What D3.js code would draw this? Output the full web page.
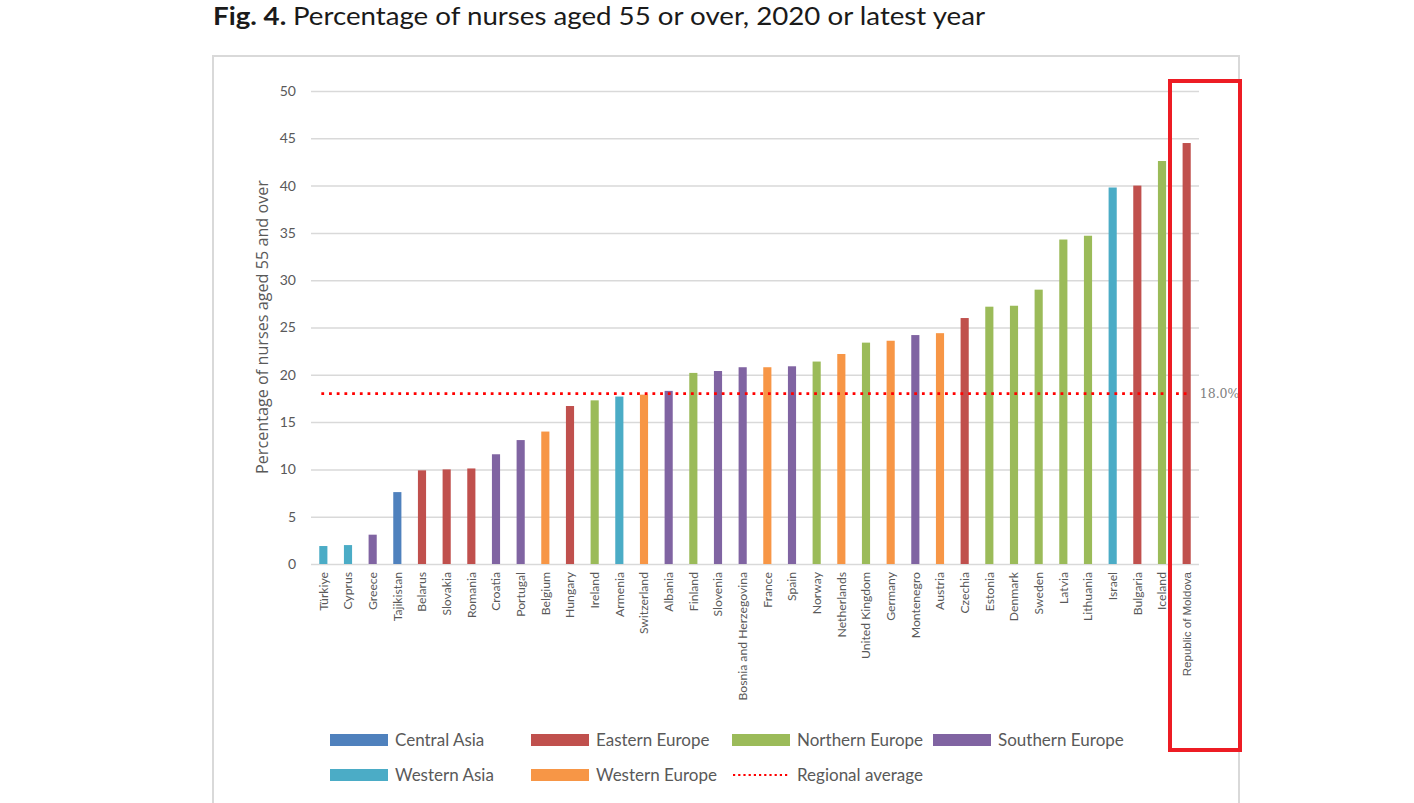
<!DOCTYPE html>
<html>
<head>
  <meta charset="utf-8">
  <script src="https://d3js.org/d3.v7.min.js"></script>
  <style>
    body { margin: 0; background: #fff; }
    svg { display: block; }
    .tick-label { font-family: Lato, "Open Sans", sans-serif; fill: #595959; }
    .grid line { stroke: #d9d9d9; stroke-width: 1.5px; }
  </style>
</head>
<body>

<script>
  var width = 1414,
      height = 803;

  // data
  var countries = ["Türkiye", "Cyprus", "Greece", "Tajikistan", "Belarus", "Slovakia", "Romania",
    "Croatia", "Portugal", "Belgium", "Hungary", "Ireland", "Armenia", "Switzerland", "Albania",
    "Finland", "Slovenia", "Bosnia and Herzegovina", "France", "Spain", "Norway", "Netherlands",
    "United Kingdom", "Germany", "Montenegro", "Austria", "Czechia", "Estonia", "Denmark", "Sweden",
    "Latvia", "Lithuania", "Israel", "Bulgaria", "Iceland", "Republic of Moldova"];
  var values = [1.9, 2.0, 3.1, 7.6, 9.9, 10.0, 10.1, 11.6, 13.1, 14.0, 16.7, 17.3, 17.7, 17.9, 18.3,
    20.2, 20.4, 20.8, 20.8, 20.9, 21.4, 22.2, 23.4, 23.6, 24.2, 24.4, 26.0, 27.2, 27.3, 29.0,
    34.3, 34.7, 39.8, 40.0, 42.6, 44.5];
  var subregions = ["Western Asia", "Western Asia", "Southern Europe", "Central Asia", "Eastern Europe",
    "Eastern Europe", "Eastern Europe", "Southern Europe", "Southern Europe", "Western Europe",
    "Eastern Europe", "Northern Europe", "Western Asia", "Western Europe", "Southern Europe",
    "Northern Europe", "Southern Europe", "Southern Europe", "Western Europe", "Southern Europe",
    "Northern Europe", "Western Europe", "Northern Europe", "Western Europe", "Southern Europe",
    "Western Europe", "Eastern Europe", "Northern Europe", "Northern Europe", "Northern Europe",
    "Northern Europe", "Northern Europe", "Western Asia", "Eastern Europe", "Northern Europe",
    "Eastern Europe"];
  var regionNames = ["Central Asia", "Eastern Europe", "Northern Europe", "Southern Europe",
    "Western Asia", "Western Europe"];
  var regionColors = ["#4f81bd", "#c0504d", "#9bbb59", "#8064a2", "#4bacc6", "#f79646"];
  var regionalAverage = 18.0;
  var yTicks = [0, 5, 10, 15, 20, 25, 30, 35, 40, 45, 50];

  var data = countries.map(function(c, i) {
    return { country: c, value: values[i], region: subregions[i] };
  });

  var svg = d3.select("body")
      .append("svg")
      .attr("width", width)
      .attr("height", height);

  // title
  var title = svg.append("text")
      .attr("x", 213)
      .attr("y", 25)
      .style("font-family", "Lato, sans-serif")
      .style("font-size", "25px")
      .style("fill", "#1a1a1a");
  title.append("tspan").style("font-weight", "bold").text("Fig. 4. ");
  title.append("tspan").text("Percentage of nurses aged 55 or over, 2020 or latest year");
  title.attr("textLength", 772).attr("lengthAdjust", "spacingAndGlyphs");

  // chart frame
  svg.append("rect")
      .attr("x", 213)
      .attr("y", 56)
      .attr("width", 1026)
      .attr("height", 800)
      .attr("fill", "none")
      .attr("stroke", "#d9d9d9")
      .attr("stroke-width", 2);

  var x = d3.scaleBand()
      .domain(countries)
      .range([311, 1199])
      .paddingInner(0.67)
      .paddingOuter(0.335);

  var y = d3.scaleLinear()
      .domain([0, 50])
      .range([564, 91]);

  var color = d3.scaleOrdinal()
      .domain(regionNames)
      .range(regionColors);

  // gridlines
  svg.append("g")
      .attr("class", "grid")
      .attr("transform", "translate(311,0)")
      .call(d3.axisLeft(y).tickValues(yTicks).tickSize(-888).tickFormat(""))
      .call(function(g) { g.select(".domain").remove(); });

  // y tick labels
  svg.append("g")
      .attr("transform", "translate(311,0)")
      .call(d3.axisLeft(y).tickValues(yTicks).tickSize(0).tickPadding(15))
      .call(function(g) {
        g.select(".domain").remove();
        g.selectAll("text")
          .attr("class", "tick-label")
          .style("font-size", "14px");
      });

  // y axis title
  svg.append("text")
      .attr("transform", "translate(268,327) rotate(-90)")
      .attr("text-anchor", "middle")
      .style("font-family", "'Open Sans', sans-serif")
      .style("font-size", "16.2px")
      .style("fill", "#595959")
      .text("Percentage of nurses aged 55 and over");

  // bars
  svg.selectAll(".bar")
      .data(data)
      .enter().append("rect")
      .attr("class", "bar")
      .attr("x", function(d) { return x(d.country); })
      .attr("width", x.bandwidth())
      .attr("y", function(d) { return y(d.value); })
      .attr("height", function(d) { return y(0) - y(d.value); })
      .attr("fill", function(d) { return color(d.region); });

  // x labels
  svg.append("g")
      .attr("transform", "translate(0," + y(0) + ")")
      .call(d3.axisBottom(x).tickSize(0).tickPadding(0))
      .call(function(g) {
        g.select(".domain").remove();
        g.selectAll("text")
          .attr("class", "tick-label")
          .attr("transform", "rotate(-90)")
          .attr("text-anchor", "end")
          .attr("x", -8)
          .attr("y", 0)
          .attr("dy", "0.35em")
          .style("font-size", function(d) {
            return d === "Republic of Moldova" ? "11.5px" : "12.2px";
          })
          .style("font-family", function(d) {
            return d === "Republic of Moldova" ? "'Liberation Sans', sans-serif" : "Lato, sans-serif";
          });
      });

  // regional average
  var first = countries[0], last = countries[countries.length - 1];
  svg.append("line")
      .attr("x1", x(first) + x.bandwidth() / 2 - 2)
      .attr("x2", x(last) + x.bandwidth() / 2)
      .attr("y1", y(regionalAverage))
      .attr("y2", y(regionalAverage))
      .attr("stroke", "#ff0000")
      .attr("stroke-width", 2.8)
      .attr("stroke-dasharray", "2.8,4.9");

  svg.append("text")
      .attr("x", x(last) + x.bandwidth() + 9)
      .attr("y", y(regionalAverage))
      .attr("dy", "0.35em")
      .style("font-family", "'DejaVu Serif', serif")
      .style("font-size", "12.5px")
      .style("fill", "#7f7f7f")
      .text(d3.format(".1f")(regionalAverage) + "%");

  // legend
  var legendItems = regionNames.map(function(r, i) {
    return { name: r, color: regionColors[i], type: "bar" };
  });
  legendItems.push({ name: "Regional average", color: "#ff0000", type: "line" });

  var legend = svg.selectAll(".legend")
      .data(legendItems)
      .enter().append("g")
      .attr("class", "legend")
      .attr("transform", function(d, i) {
        return "translate(" + (330 + (i % 4) * 201) + "," + (740 + Math.floor(i / 4) * 35) + ")";
      });

  legend.filter(function(d) { return d.type === "bar"; })
      .append("rect")
      .attr("x", 0)
      .attr("y", -6)
      .attr("width", 58)
      .attr("height", 12)
      .attr("fill", function(d) { return d.color; });

  legend.filter(function(d) { return d.type === "line"; })
      .append("line")
      .attr("x1", 1)
      .attr("x2", 58)
      .attr("y1", 0)
      .attr("y2", 0)
      .attr("stroke", function(d) { return d.color; })
      .attr("stroke-width", 2.2)
      .attr("stroke-dasharray", "2.2,3");

  legend.append("text")
      .attr("x", 65)
      .attr("y", 0)
      .attr("dy", "0.35em")
      .style("font-family", "Lato, sans-serif")
      .style("font-size", "17px")
      .style("fill", "#595959")
      .text(function(d) { return d.name; });

  // highlight box
  svg.append("rect")
      .attr("x", 1170)
      .attr("y", 81)
      .attr("width", 70)
      .attr("height", 669)
      .attr("fill", "none")
      .attr("stroke", "#ed1c24")
      .attr("stroke-width", 4);
</script>

</body>
</html>
